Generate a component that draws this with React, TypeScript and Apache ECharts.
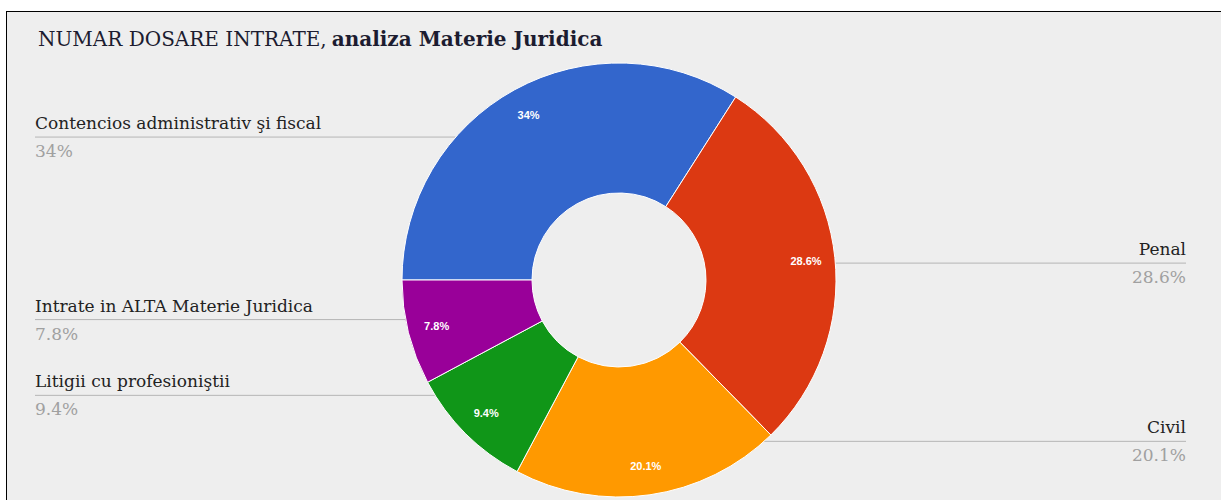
import React, { useEffect, useRef } from 'react';
import * as echarts from 'echarts';

const categories = [
  'Contencios administrativ şi fiscal',
  'Penal',
  'Civil',
  'Litigii cu profesioniştii',
  'Intrate in ALTA Materie Juridica',
];
const values = [34, 28.6, 20.1, 9.4, 7.8];
const colors = ['#3366cc', '#dc3912', '#ff9900', '#109618', '#990099'];
const titleMain = 'NUMAR DOSARE INTRATE,';
const titleSub = 'analiza Materie Juridica';

const CX = 619;
const CY = 280;
const R_OUT = 217;
const R_IN = 87;
const R_LEADER = 163;
const LEFT_X = 35;
const RIGHT_X = 1186;

function sliceMid(i: number): number {
  const total = values.reduce((a, b) => a + b, 0);
  let cum = 0;
  for (let k = 0; k < i; k++) cum += values[k];
  return ((270 + ((cum + values[i] / 2) / total) * 360) * Math.PI) / 180;
}

export default function App() {
  const ref = useRef<HTMLDivElement>(null);
  useEffect(() => {
    if (!ref.current) return;
    const chart = echarts.init(ref.current, undefined, { renderer: 'svg' });
    const data = categories.map((name, i) => ({
      name,
      value: values[i],
      itemStyle: { color: colors[i] },
    }));
    chart.setOption({
      animation: false,
      backgroundColor: 'transparent',
      title: {
        left: 33,
        top: 24,
        text: `{a|${titleMain}} {b|${titleSub}}`,
        textStyle: {
          rich: {
            a: { fontFamily: 'DejaVu Serif', fontSize: 20, fontWeight: 'normal', color: '#1c1c30' },
            b: { fontFamily: 'DejaVu Serif', fontSize: 20, fontWeight: 'bold', color: '#1c1c30' },
          },
        },
      },
      series: [
        {
          type: 'pie',
          center: [CX, CY],
          radius: [R_IN, R_OUT],
          startAngle: 180,
          clockwise: true,
          avoidLabelOverlap: false,
          silent: true,
          itemStyle: { borderColor: '#ffffff', borderWidth: 1 },
          label: {
            show: true,
            position: 'outside',
            formatter: (p: any) => `{n|${p.name}}\n{p|${p.value}%}`,
            rich: {
              n: { fontFamily: 'DejaVu Serif', fontSize: 17, lineHeight: 28, color: '#222222' },
              p: { fontFamily: 'DejaVu Serif', fontSize: 17, lineHeight: 28, color: '#a0a0a0' },
            },
          },
          labelLine: {
            show: true,
            length: 10,
            length2: 10,
            lineStyle: { color: '#b5b5b5', width: 1 },
          },
          labelLayout: (params: any) => {
            const i = params.dataIndex;
            const m = sliceMid(i);
            const s = Math.sin(m);
            const c = Math.cos(m);
            const y = CY - R_LEADER * c;
            const right = s > 0;
            const dx = Math.sqrt(Math.max(0, R_OUT * R_OUT - (y - CY) * (y - CY)));
            const xEdge = right ? CX + dx : CX - dx;
            const xEnd = right ? RIGHT_X : LEFT_X;
            return {
              x: xEnd,
              y,
              align: right ? 'right' : 'left',
              verticalAlign: 'middle',
              labelLinePoints: [
                [xEdge, y],
                [xEnd, y],
              ],
            };
          },
          data,
        },
        {
          type: 'pie',
          center: [CX, CY],
          radius: [153, R_OUT],
          startAngle: 180,
          clockwise: true,
          silent: true,
          itemStyle: { color: 'rgba(0,0,0,0)', borderWidth: 0 },
          label: {
            show: true,
            position: 'inside',
            formatter: (p: any) => `${p.value}%`,
            color: '#ffffff',
            fontFamily: 'Arial, Liberation Sans',
            fontWeight: 'bold',
            fontSize: 11,
          },
          labelLine: { show: false },
          data: categories.map((name, i) => ({ name, value: values[i] })),
        },
      ],
    });
    return () => chart.dispose();
  }, []);
  return (
    <div style={{ position: 'absolute', left: 0, top: 0, width: 1221, height: 500, background: '#ffffff', overflow: 'hidden' }}>
      <div
        style={{
          position: 'absolute',
          left: 6,
          top: 11,
          width: 1300,
          height: 600,
          borderTop: '1px solid #000',
          borderLeft: '1px solid #000',
          background: '#eeeeee',
        }}
      />
      <div ref={ref} style={{ position: 'absolute', left: 0, top: 0, width: 1221, height: 500 }} />
    </div>
  );
}
